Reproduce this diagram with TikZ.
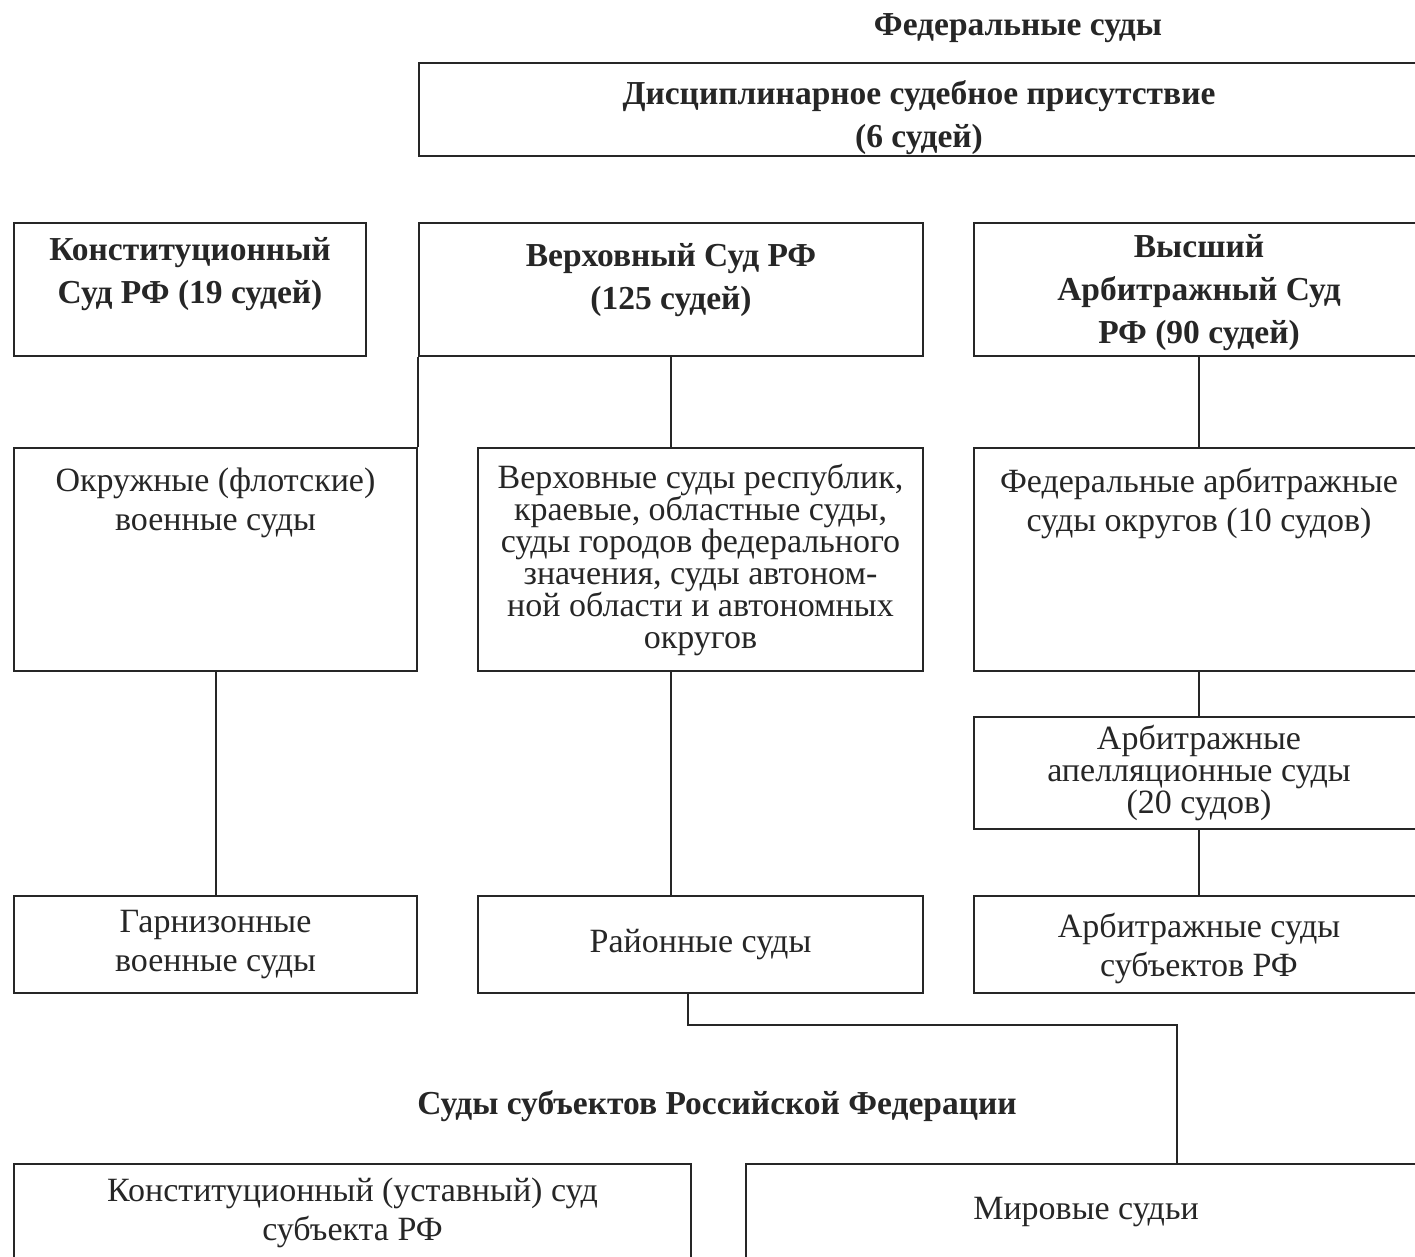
\documentclass[tikz,border=0pt]{standalone}
\usepackage{fontspec}
\setmainfont{Liberation Serif}
\usepackage{xcolor}

\newcommand{\boxfont}{\fontsize{34}{38.5}\selectfont}
\newcommand{\tightfont}{\fontsize{34}{32}\selectfont}
\newcommand{\headfont}{\fontsize{33.5}{43}\selectfont\bfseries}

\begin{document}
\begin{tikzpicture}[
        x=1pt,   % 1 пиксель = 1pt
        y=-1pt,  % ось y вниз, как на рисунке
        box/.style={draw=black!85, line width=2pt, anchor=north west,
            inner sep=0pt, align=center, text=black!85, font=\boxfont},
        txt/.style={inner sep=0pt, align=center, text=black!85, font=\boxfont, anchor=north},
        head/.style={inner sep=0pt, text=black!85, font=\headfont},
        link/.style={draw=black!85, line width=2pt}
    ]
    \path[use as bounding box, clip] (0,0) rectangle (1415,1256);

    % Федеральные суды
    \node[head] (fed) at (1018,28) {Федеральные суды};
    \node[box, minimum width=1000, minimum height=93] (dis) at (418,62) {};
    \node[txt, font=\headfont] (dis-t) at ([yshift=-18pt]dis.north) {Дисциплинарное судебное присутствие\\(6 судей)};

    % высшие суды
    \node[box, minimum width=352, minimum height=133] (ks) at (13,222) {};
    \node[txt, font=\headfont] (ks-t) at ([yshift=-15pt]ks.north) {Конституционный\\Суд РФ (19 судей)};
    \node[box, minimum width=504, minimum height=133] (vs) at (418,222) {};
    \node[txt, font=\headfont] (vs-t) at ([yshift=-21pt]vs.north) {Верховный Суд РФ\\(125 судей)};
    \node[box, minimum width=450, minimum height=133] (vas) at (973,222) {};
    \node[txt, font=\headfont] (vas-t) at ([yshift=-12pt]vas.north) {Высший\\Арбитражный Суд\\РФ (90 судей)};

    % второй уровень
    \node[box, minimum width=403, minimum height=223] (okr) at (13,447) {};
    \node[txt] (okr-t) at ([yshift=-21pt]okr.north) {Окружные (флотские)\\военные суды};
    \node[box, font=\tightfont, minimum width=445, minimum height=223] (vso) at (477,447)
        {Верховные суды республик,\\краевые, областные суды,\\суды городов федерального\\значения, суды автоном-\\ной области и автономных\\округов};
    \node[box, minimum width=450, minimum height=223] (fas) at (973,447) {};
    \node[txt] (fas-t) at ([yshift=-21pt]fas.north) {Федеральные арбитражные\\суды округов (10 судов)};
    \node[box, font=\tightfont, minimum width=450, minimum height=112] (apel) at (973,716)
        {Арбитражные\\апелляционные суды\\(20 судов)};

    % нижний уровень
    \node[box, minimum width=403, minimum height=97] (garn) at (13,895) {Гарнизонные\\военные суды};
    \node[box, minimum width=445, minimum height=97] (ray) at (477,895) {Районные суды};
    \node[box, minimum width=450, minimum height=97] (asub) at (973,895) {};
    \node[txt] (asub-t) at ([yshift=-18pt]asub.north) {Арбитражные суды\\субъектов РФ};

    % Суды субъектов
    \node[head] (sub) at (717,1106) {Суды субъектов Российской Федерации};
    \node[box, minimum width=677, minimum height=140] (kus) at (13,1163) {};
    \node[txt] (kus-t) at ([yshift=-15pt]kus.north) {Конституционный (уставный) суд\\субъекта РФ};
    \node[box, minimum width=680, minimum height=140] (mir) at (745,1163) {};
    \node[txt] (mir-t) at ([yshift=-34pt]mir.north) {Мировые судьи};

    % связи
    \draw[link] (vs.south west) -- (vs.south west |- okr.north);
    \draw[link] (vs.south) -- (vs.south |- vso.north);
    \draw[link] (vas.south) -- (fas.north);
    \draw[link] (okr.south) -- (garn.north);
    \draw[link] (vs.south |- vso.south) -- (vs.south |- ray.north);
    \draw[link] (fas.south) -- (apel.north);
    \draw[link] (apel.south) -- (asub.north);
    \draw[link] ([xshift=-13pt]ray.south) -- ++(0,31) -| ([xshift=91pt]mir.north);
\end{tikzpicture}
\end{document}
